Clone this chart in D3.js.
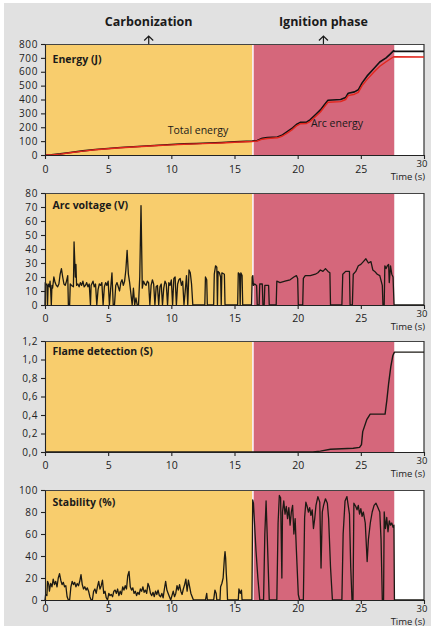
<!DOCTYPE html>
<html><head><meta charset="utf-8">
<script src="https://cdn.jsdelivr.net/npm/d3@7"></script>
<style>body{margin:0;background:#fff}svg{display:block}</style>
</head><body>
<script>
// ---------- DATA ----------
const phaseNames = ["Carbonization", "Ignition phase"];
const phaseBounds = [0, 16.42, 27.66];
const timeTicks = [0, 5, 10, 15, 20, 25, 30];
const energyTicks = [0, 100, 200, 300, 400, 500, 600, 700, 800];
const voltageTicks = [0, 10, 20, 30, 40, 50, 60, 70, 80];
const flameTicks = [0, 0.2, 0.4, 0.6, 0.8, 1.0, 1.2];
const stabilityTicks = [0, 20, 40, 60, 80, 100];

const totalEnergy = [[0,0],[0.5,2],[1.2,8],[2,18],[3,30],[4,40],[5,47],[6,54],[7,60],[8,65],[9,70],[10,76],[11,80],[12,83],[13,87],[14,90],[15,95],[16.4,100],[16.8,105],[17.2,120],[17.6,125],[18.4,130],[18.8,145],[19.2,170],[19.6,195],[19.9,220],[20.2,235],[20.7,237],[21.0,255],[21.4,290],[21.8,325],[22.1,360],[22.4,395],[23.4,400],[23.8,415],[24.0,445],[24.5,455],[24.8,470],[25.1,520],[25.5,570],[26.0,620],[26.5,670],[27.0,700],[27.3,725],[27.6,752],[27.66,747],[30,747]];
const arcEnergy = [[0,0],[0.5,1],[1.2,6],[2,16],[3,28],[4,38],[5,45],[6,52],[7,58],[8,63],[9,68],[10,73],[11,77],[12,80],[13,84],[14,87],[15,92],[16.4,97],[16.8,101],[17.2,114],[17.6,119],[18.4,124],[18.8,137],[19.2,160],[19.6,185],[19.9,210],[20.2,225],[20.7,227],[21.0,243],[21.4,276],[21.8,310],[22.1,345],[22.4,380],[23.4,385],[23.8,400],[24.0,428],[24.5,438],[24.8,452],[25.1,500],[25.5,545],[26.0,595],[26.5,640],[27.0,672],[27.3,690],[27.6,708],[30,706]];

const arcVoltage = [[0,0],[0.02,16],[0.15,14],[0.2,0],[0.25,15],[0.35,13],[0.4,17],[0.45,10],[0.5,0],[0.55,14],[0.6,12],[0.7,20],[0.8,16],[0.9,14],[1.0,13],[1.1,15],[1.2,22],[1.3,26],[1.4,20],[1.5,15],[1.6,14],[1.7,17],[1.8,21],[1.85,0],[1.95,0],[2.0,15],[2.1,14],[2.25,13],[2.3,45],[2.4,20],[2.45,29],[2.5,14],[2.6,15],[2.7,13],[2.8,16],[2.9,14],[3.0,17],[3.1,13],[3.2,14],[3.3,16],[3.4,13],[3.5,15],[3.6,0],[3.65,14],[3.8,17],[3.9,13],[4.0,15],[4.1,0],[4.2,11],[4.3,15],[4.4,14],[4.5,16],[4.6,0],[4.7,13],[4.8,16],[4.9,14],[5.0,17],[5.1,0],[5.2,12],[5.3,23],[5.4,0],[5.5,0],[5.6,14],[5.7,16],[5.8,13],[5.9,10],[6.0,16],[6.1,18],[6.2,14],[6.3,17],[6.4,25],[6.5,39],[6.6,22],[6.7,16],[6.8,8],[6.9,0],[7.0,12],[7.1,0],[7.2,5],[7.3,0],[7.4,0],[7.5,20],[7.6,71],[7.65,42],[7.7,12],[7.8,17],[7.9,15],[8.0,14],[8.1,17],[8.2,16],[8.3,0],[8.4,14],[8.5,18],[8.6,15],[8.7,0],[8.8,13],[8.9,14],[9.0,0],[9.1,13],[9.2,15],[9.3,0],[9.4,12],[9.5,17],[9.6,15],[9.7,0],[9.8,16],[9.9,14],[10.0,18],[10.1,0],[10.2,19],[10.3,20],[10.4,0],[10.5,15],[10.6,18],[10.7,19],[10.8,14],[10.9,17],[11.0,0],[11.1,10],[11.2,21],[11.3,0],[11.4,25],[11.5,23],[11.6,15],[11.7,0],[12.65,0],[12.7,20],[12.8,18],[12.85,0],[13.35,0],[13.4,22],[13.5,28],[13.6,27],[13.65,0],[13.7,24],[13.8,23],[13.9,20],[13.95,0],[14.0,23],[14.2,22],[14.25,0],[15.25,0],[15.3,23],[15.4,22],[15.45,0],[15.5,23],[15.6,21],[15.65,0],[16.35,0],[16.4,20],[16.45,21],[16.5,14],[16.6,15],[16.75,14],[16.8,0],[16.95,0],[17.0,15],[17.2,15],[17.25,0],[17.35,0],[17.4,14],[17.7,14],[17.75,0],[18.3,0],[18.35,17],[18.6,16],[19.0,17],[19.4,18],[19.7,20],[19.9,21],[20.0,19],[20.05,0],[20.4,0],[20.45,19],[20.6,21],[21.0,21],[21.4,22],[21.6,23],[21.8,25],[22.0,24],[22.2,26],[22.4,24],[22.55,23],[22.6,0],[23.5,0],[23.57,22],[23.8,24],[24.1,24],[24.15,0],[24.33,0],[24.4,22],[24.6,24],[24.8,28],[25.0,29],[25.2,31],[25.4,33],[25.6,30],[25.8,31],[25.95,25],[26.1,24],[26.3,22],[26.5,21],[26.7,14],[26.75,0],[26.85,0],[26.9,28],[27.0,26],[27.1,28],[27.2,29],[27.25,16],[27.35,28],[27.45,22],[27.55,20],[27.63,0],[30,0]];

const flameDetection = [[0,0],[21.2,0],[21.8,0.01],[22.6,0.03],[23.5,0.035],[24.4,0.04],[24.9,0.05],[25.05,0.08],[25.15,0.22],[25.47,0.35],[25.74,0.41],[26.92,0.41],[27.06,0.56],[27.2,0.74],[27.37,0.92],[27.53,1.04],[27.66,1.08],[30,1.08]];

const stability = [[0,0],[0.05,5],[0.15,4],[0.2,17],[0.3,14],[0.35,8],[0.45,15],[0.55,12],[0.65,19],[0.75,14],[0.85,17],[0.95,12],[1.05,20],[1.15,24],[1.25,18],[1.35,14],[1.45,16],[1.55,12],[1.65,13],[1.75,3],[1.85,0],[1.95,0],[2.05,12],[2.15,17],[2.25,14],[2.35,16],[2.45,12],[2.55,15],[2.65,13],[2.75,17],[2.85,23],[2.95,14],[3.05,10],[3.15,12],[3.25,9],[3.35,11],[3.45,8],[3.55,3],[3.65,0],[3.75,0],[3.85,8],[3.95,10],[4.05,6],[4.15,12],[4.25,17],[4.35,10],[4.45,13],[4.55,18],[4.65,6],[4.75,8],[4.85,2],[4.95,0],[5.05,6],[5.15,4],[5.25,5],[5.35,3],[5.45,8],[5.55,9],[5.65,6],[5.75,10],[5.85,4],[5.95,8],[6.05,5],[6.15,12],[6.25,9],[6.35,13],[6.45,10],[6.55,22],[6.65,26],[6.75,12],[6.85,9],[6.95,11],[7.05,6],[7.15,8],[7.25,4],[7.35,7],[7.45,5],[7.55,10],[7.65,8],[7.75,12],[7.85,7],[7.95,9],[8.05,6],[8.15,15],[8.25,12],[8.35,6],[8.45,4],[8.55,7],[8.65,3],[8.75,8],[8.85,5],[8.95,9],[9.05,4],[9.15,3],[9.25,6],[9.35,2],[9.45,10],[9.55,17],[9.65,9],[9.75,6],[9.85,3],[9.95,0],[10.05,4],[10.15,8],[10.25,3],[10.35,6],[10.45,13],[10.55,9],[10.65,14],[10.75,8],[10.85,5],[10.95,10],[11.05,14],[11.15,19],[11.25,8],[11.35,18],[11.45,12],[11.55,6],[11.65,3],[11.75,0],[12.7,0],[12.8,6],[12.85,0],[13.35,0],[13.45,9],[13.55,6],[13.6,0],[13.85,0],[13.9,12],[14.0,15],[14.1,20],[14.2,38],[14.25,44],[14.3,38],[14.35,24],[14.4,15],[14.45,0],[15.3,0],[15.35,10],[15.45,6],[15.55,9],[15.6,0],[16.38,0],[16.44,91],[16.5,88],[16.7,45],[16.85,20],[17.0,0],[17.3,0],[17.4,60],[17.5,90],[17.6,55],[17.75,0],[18.35,0],[18.45,70],[18.55,95],[18.65,93],[18.75,20],[18.8,80],[18.9,90],[19.0,78],[19.1,85],[19.2,74],[19.3,84],[19.4,68],[19.5,80],[19.6,86],[19.7,60],[19.8,74],[19.9,45],[20.05,5],[20.15,0],[20.45,0],[20.55,75],[20.65,89],[20.75,85],[20.85,80],[20.95,84],[21.05,77],[21.15,82],[21.25,65],[21.35,74],[21.45,86],[21.6,94],[21.75,89],[21.85,29],[21.95,80],[22.05,86],[22.2,92],[22.35,88],[22.45,74],[22.6,30],[22.75,0],[23.5,0],[23.6,60],[23.75,90],[23.9,94],[24.0,86],[24.1,78],[24.2,30],[24.3,0],[24.38,0],[24.45,88],[24.6,85],[24.7,82],[24.8,86],[24.9,78],[25.0,83],[25.1,76],[25.2,80],[25.35,70],[25.5,35],[25.6,55],[25.75,70],[25.9,80],[26.05,86],[26.2,88],[26.35,84],[26.5,80],[26.6,55],[26.7,0],[26.8,0],[26.85,80],[26.95,65],[27.05,75],[27.15,62],[27.25,72],[27.35,68],[27.45,70],[27.55,66],[27.62,68],[27.66,0],[30,0]];

// ---------- LAYOUT / STYLE ----------
const W = 435, H = 629;
const COL = {bg:"#e1e1e1", yellow:"#f8cd6d", pink:"#d5677b", white:"#ffffff", ink:"#1c1a14", red:"#e2261c", axis:"#222"};
const FONT = "'Open Sans', 'Noto Sans', sans-serif";

const panels = [
  {title:"Energy (J)", top:44, bottom:155, domain:[0,800], ticks:energyTicks, fmt:d=>d, titleDy:16, xLab:14,
   series:[{data:totalEnergy, color:"#111", w:1.6},{data:arcEnergy, color:COL.red, w:1.4}]},
  {title:"Arc voltage (V)", top:193, bottom:305, domain:[0,80], ticks:voltageTicks, fmt:d=>d, titleDy:13, xLab:13,
   series:[{data:arcVoltage, color:COL.ink, w:1.3}]},
  {title:"Flame detection (S)", top:341, bottom:452, domain:[0,1.2], ticks:flameTicks, fmt:d=>d3.format(".1f")(d).replace(".",","), titleDy:11.5, xLab:13,
   series:[{data:flameDetection, color:COL.ink, w:1.4}]},
  {title:"Stability (%)", top:490, bottom:600, domain:[0,100], ticks:stabilityTicks, fmt:d=>d, titleDy:12.7, xLab:8,
   series:[{data:stability, color:COL.ink, w:1.3}]}
];

const svg = d3.select("body").append("svg").attr("width", W).attr("height", H)
  .style("font-family", FONT);
svg.append("rect").attr("x",4).attr("y",3).attr("width",427).attr("height",623).attr("fill",COL.bg);

const x = d3.scaleLinear().domain([0, 30]).range([45, 424]);

phaseNames.forEach((name, i) => {
  const cx = x((phaseBounds[i] + phaseBounds[i+1]) / 2);
  svg.append("text").attr("x", cx).attr("y", 23).attr("text-anchor","middle")
    .attr("dominant-baseline","middle").attr("font-weight",700).attr("font-size",12.5)
    .attr("fill","#1a1a1a").text(name);
  svg.append("path").attr("d", `M${cx},44 V36 M${cx-4.5},40.5 L${cx},36 L${cx+4.5},40.5`)
    .attr("fill","none").attr("stroke","#1a1a1a").attr("stroke-width",1.2);
});

panels.forEach(p => {
  const y = d3.scaleLinear().domain(p.domain).range([p.bottom, p.top]);
  const g = svg.append("g");
  const h = p.bottom - p.top;
  g.append("rect").attr("x", x(phaseBounds[0])).attr("y", p.top).attr("width", x(phaseBounds[1]) - x(phaseBounds[0])).attr("height", h).attr("fill", COL.yellow);
  g.append("rect").attr("x", x(phaseBounds[1])).attr("y", p.top).attr("width", x(phaseBounds[2]) - x(phaseBounds[1])).attr("height", h).attr("fill", COL.pink);
  g.append("rect").attr("x", x(phaseBounds[2])).attr("y", p.top).attr("width", x(30) - x(phaseBounds[2])).attr("height", h).attr("fill", COL.white);
  g.append("line").attr("x1", x(phaseBounds[1])+0.5).attr("x2", x(phaseBounds[1])+0.5).attr("y1", p.top).attr("y2", p.bottom).attr("stroke","#fff").attr("stroke-width",1.5);
  g.append("line").attr("x1", x(0)).attr("x2", x(30)).attr("y1", p.top+0.5).attr("y2", p.top+0.5).attr("stroke","#444").attr("stroke-width",1);
  g.append("line").attr("x1", x(30)).attr("x2", x(30)).attr("y1", p.top).attr("y2", p.bottom).attr("stroke","#333").attr("stroke-width",1.2);

  g.append("text").attr("x", 52.5).attr("y", p.top + p.titleDy).attr("dominant-baseline","middle")
    .attr("font-weight",700).attr("font-size",10.5).attr("fill","#1a1a1a").text(p.title);

  const line = d3.line().x(d => x(d[0])).y(d => y(d[1]));
  p.series.forEach(s => {
    g.append("path").datum(s.data).attr("d", line).attr("fill","none")
      .attr("stroke", s.color).attr("stroke-width", s.w).attr("stroke-linejoin","round");
  });

  const ay = g.append("g").attr("transform", `translate(${x(0)},0)`)
    .call(d3.axisLeft(y).tickValues(p.ticks).tickFormat(p.fmt).tickSize(4).tickSizeOuter(0).tickPadding(3));
  ay.selectAll("text").attr("font-size",10).attr("letter-spacing",0.6).attr("fill","#222").attr("font-family",FONT);
  const ax = g.append("g").attr("transform", `translate(0,${p.bottom})`)
    .call(d3.axisBottom(x).tickValues(timeTicks).tickFormat(d => d === 30 ? "" : d).tickSize(4).tickSizeOuter(0).tickPadding(0));
  ax.selectAll(".tick text").attr("y", p.xLab).attr("dy", "0.35em").attr("font-size",10.5).attr("fill","#222").attr("font-family",FONT);
  [ay, ax].forEach(a => { a.selectAll("path,line").attr("stroke", COL.axis).attr("stroke-width",1.1); });

  g.append("text").attr("x", x(30) - 2).attr("y", p.bottom + 9).attr("text-anchor","middle").attr("dominant-baseline","middle")
    .attr("font-size",9.5).attr("fill","#222").text("30");
  g.append("text").attr("x", x(30) + 1).attr("y", p.bottom + 22.5).attr("text-anchor","end").attr("dominant-baseline","middle")
    .attr("font-size",9.5).attr("fill","#222").text("Time (s)");
});

svg.append("text").attr("x", 198).attr("y", 131).attr("text-anchor","middle").attr("dominant-baseline","middle")
  .attr("font-size",10.5).attr("fill","#1a1a1a").text("Total energy");
svg.append("text").attr("x", 337).attr("y", 124).attr("text-anchor","middle").attr("dominant-baseline","middle")
  .attr("font-size",10.5).attr("fill","#1a1a1a").text("Arc energy");
</script>
</body></html>
